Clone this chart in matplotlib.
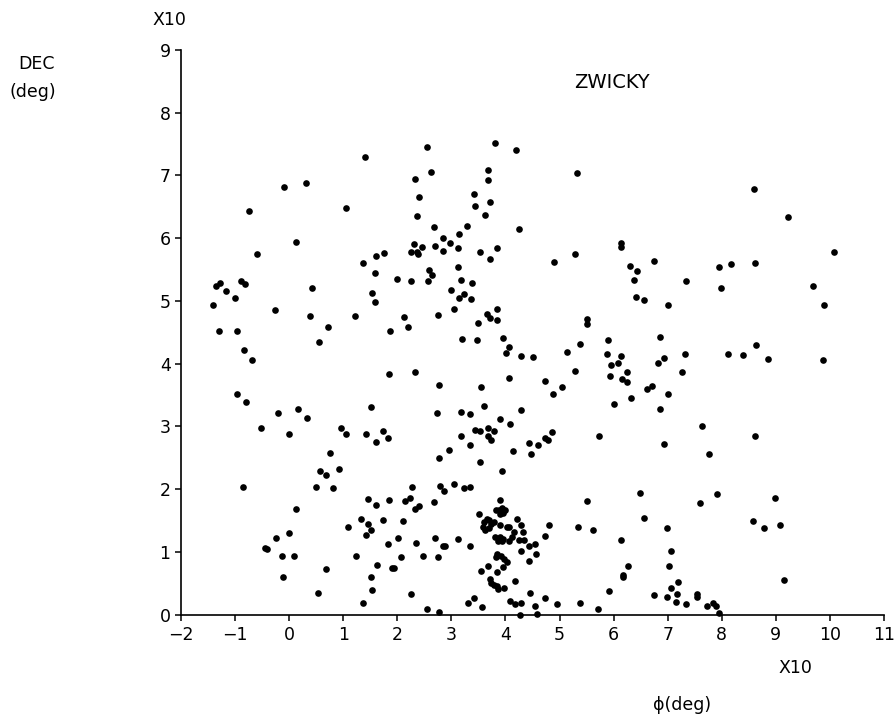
import matplotlib
matplotlib.use("Agg")
import matplotlib.pyplot as plt

# Galaxy positions (units of 10 degrees)
phi = [
    1.40, -0.10, 0.31, -0.75, 1.06, 0.13, 2.33, 2.40, 2.37, 2.30,
    2.54, 2.63, 2.67, 2.84, 2.97, 3.15, 3.28, 3.41, 3.44, 3.63,
    3.72, 3.67, 3.68, 3.80, 4.19, 4.25, 5.33, 6.14, 6.14, 2.46,
    2.70, 3.13, 3.84, 8.59, 9.23,
    -0.59, -1.36, -1.27, -1.16, -0.89, -0.81, -1.01, -1.41, -0.26, 0.43,
    0.39, 0.72, 0.56, -1.30, -0.97, -0.84, -0.69, 1.36, 1.60, 1.75,
    1.59, 1.53, 1.58, 1.22, 1.86, 2.00, 2.26, 2.12, 2.20, 2.25,
    2.37, 2.39, 1.85, 2.33, -0.97, -0.79, -0.20, 0.17, 0.33, -0.52,
    0.00, 0.95, 1.05, 1.43, 1.52, 1.74, 1.82,
    2.84, 3.53, 3.72, 3.12, 2.59, 2.65, 2.57, 3.18, 3.38, 3.00,
    3.23, 3.15, 3.36, 3.04, 2.76, 3.65, 3.72, 3.85, 3.84, 3.50,
    3.20, 3.48, 3.95, 4.06, 4.01, 4.29, 4.51, 4.90, 5.28, 5.50,
    5.50, 6.31, 6.44, 6.38, 6.42, 6.57, 5.37, 5.14, 5.28, 5.90,
    5.87, 6.13, 5.96, 6.08, 6.24, 5.94, 6.16, 6.24, 6.33, 6.00,
    5.73, 2.78, 3.55, 4.06, 4.73, 4.88, 5.04, 3.61, 2.73, 3.18,
    3.34, 4.28, 3.90, 4.08, 3.18, 3.44, 3.53, 3.67, 3.79, 3.68,
    4.86, 4.73,
    10.08, 6.75, 7.94, 8.17, 8.61, 7.34, 7.98, 9.69, 9.89, 7.01,
    6.86, 8.64, 8.12, 8.40, 8.85, 9.88, 6.94, 6.82, 7.32, 7.27,
    6.71, 6.62, 7.01, 6.85, 7.64, 8.61,
    1.60, 0.75, 0.57, 0.68, 0.92, 0.49, 0.81, -0.85, 0.13, -0.01,
    -0.25, -0.45, -0.41, -0.14, 0.09, -0.12, 0.68, 0.54, 1.09, 1.32,
    1.45, 1.61, 1.84, 1.46, 1.51, 1.43, 1.74, 1.24, 1.82, 1.62,
    1.51, 1.53, 1.37, 2.02, 2.07, 1.90, 1.93, 2.11, 2.34, 2.25,
    2.15, 2.23, 2.28, 2.32, 2.41,
    3.73, 3.35, 2.96, 2.78, 3.52, 4.14, 4.43, 4.60, 4.47, 4.78,
    3.93, 2.79, 2.86, 3.04, 3.23, 3.34, 2.67, 2.69, 3.12, 2.84,
    2.89, 2.48, 2.75, 3.35, 2.54, 2.78, 3.30, 3.42, 3.56, 3.51,
    3.89,
    3.83, 3.88, 3.94, 4.00, 3.90, 3.96, 3.66, 3.61, 3.58, 3.62,
    3.70, 3.74, 3.78, 3.70, 3.90, 4.02, 4.07, 4.22, 4.28, 4.33,
    4.16, 4.13, 3.80, 3.90, 3.95, 3.86, 3.93, 4.06, 4.25, 4.34,
    4.43, 4.55, 4.28, 3.85, 3.82, 3.91, 3.98, 4.03, 3.95, 4.56,
    4.43, 3.68, 3.55, 3.84, 3.72, 3.74, 3.79, 3.85, 3.87, 3.98,
    4.17, 4.73, 4.81, 4.08, 4.17, 4.28, 4.46, 4.55, 4.73, 4.95,
    4.27, 4.59, 5.37, 5.72, 5.92, 5.34, 5.61, 5.50, 6.14, 6.27,
    6.17, 6.18, 6.49, 6.56,
    6.94, 7.77, 7.91, 7.59, 8.98, 8.57, 8.79, 9.07, 6.99, 7.06,
    7.03, 9.15, 7.19, 6.74, 7.06, 6.99, 7.17, 7.15, 7.33, 7.54,
    7.55, 7.73, 7.84, 7.89, 7.95,
]

dec = [
    7.29, 6.81, 6.88, 6.44, 6.48, 5.94, 6.94, 6.66, 6.35, 5.91,
    7.45, 7.05, 6.18, 6.01, 5.93, 6.06, 6.19, 6.70, 6.51, 6.37,
    6.58, 6.93, 7.08, 7.52, 7.41, 6.15, 7.04, 5.93, 5.86, 5.86,
    5.88, 5.85, 5.85, 6.78, 6.33,
    5.75, 5.23, 5.28, 5.16, 5.31, 5.27, 5.05, 4.94, 4.86, 5.20,
    4.76, 4.58, 4.34, 4.52, 4.52, 4.22, 4.05, 5.61, 5.71, 5.77,
    5.44, 5.12, 4.98, 4.76, 4.52, 5.35, 5.32, 4.75, 4.58, 5.78,
    5.78, 5.74, 3.84, 3.87, 3.51, 3.39, 3.22, 3.27, 3.13, 2.98,
    2.88, 2.98, 2.87, 2.88, 3.31, 2.93, 2.82,
    5.79, 5.78, 5.66, 5.54, 5.49, 5.41, 5.31, 5.33, 5.28, 5.18,
    5.11, 5.04, 5.03, 4.87, 4.77, 4.79, 4.72, 4.87, 4.69, 4.64,
    4.40, 4.37, 4.41, 4.27, 4.17, 4.12, 4.10, 5.62, 5.74, 4.71,
    4.63, 5.55, 5.47, 5.33, 5.06, 5.01, 4.31, 4.18, 3.88, 4.37,
    4.15, 4.12, 3.97, 4.01, 3.87, 3.80, 3.75, 3.70, 3.45, 3.36,
    2.84, 3.66, 3.63, 3.77, 3.72, 3.51, 3.62, 3.33, 3.21, 3.23,
    3.19, 3.26, 3.12, 3.03, 2.85, 2.94, 2.92, 2.97, 2.93, 2.84,
    2.91, 2.81,
    5.78, 5.64, 5.54, 5.59, 5.61, 5.31, 5.21, 5.23, 4.93, 4.93,
    4.43, 4.30, 4.16, 4.13, 4.07, 4.05, 4.09, 4.01, 4.15, 3.86,
    3.64, 3.60, 3.52, 3.28, 3.01, 2.84,
    2.75, 2.58, 2.29, 2.22, 2.32, 2.03, 2.01, 2.04, 1.68, 1.30,
    1.22, 1.06, 1.04, 0.93, 0.93, 0.59, 0.72, 0.34, 1.40, 1.52,
    1.84, 1.75, 1.83, 1.44, 1.35, 1.27, 1.50, 0.93, 1.12, 0.79,
    0.60, 0.39, 0.19, 1.22, 0.92, 0.74, 0.74, 1.49, 1.14, 0.33,
    1.81, 1.86, 2.03, 1.68, 1.73,
    2.78, 2.70, 2.62, 2.49, 2.43, 2.60, 2.73, 2.71, 2.56, 2.78,
    2.29, 2.05, 1.97, 2.08, 2.01, 2.03, 1.79, 1.22, 1.21, 1.09,
    1.09, 0.94, 0.91, 1.10, 0.09, 0.04, 0.19, 0.27, 0.12, 1.60,
    1.83,
    1.66, 1.66, 1.69, 1.66, 1.60, 1.62, 1.53, 1.48, 1.40, 1.35,
    1.51, 1.44, 1.47, 1.38, 1.43, 1.39, 1.39, 1.53, 1.43, 1.32,
    1.31, 1.24, 1.24, 1.24, 1.21, 1.17, 1.17, 1.17, 1.19, 1.19,
    1.09, 1.13, 1.02, 0.96, 0.91, 0.93, 0.89, 0.84, 0.76, 0.97,
    0.85, 0.77, 0.70, 0.68, 0.57, 0.51, 0.47, 0.45, 0.40, 0.43,
    0.53, 1.25, 1.42, 0.22, 0.16, 0.19, 0.34, 0.13, 0.26, 0.17,
    0.00, 0.01, 0.19, 0.08, 0.37, 1.40, 1.35, 1.81, 1.18, 0.78,
    0.63, 0.60, 1.94, 1.54,
    2.72, 2.56, 1.92, 1.77, 1.85, 1.49, 1.38, 1.42, 1.38, 1.02,
    0.77, 0.55, 0.52, 0.31, 0.42, 0.28, 0.32, 0.20, 0.17, 0.32,
    0.28, 0.13, 0.19, 0.13, 0.02,
]

xticks = list(range(-2, 12))
xticklabels = ["\u2212" + str(-t) if t < 0 else str(t) for t in xticks]
yticks = list(range(0, 10))
yticklabels = [str(t) for t in yticks]

plt.rcParams['font.family'] = ['DejaVu Sans']
fig = plt.figure(figsize=(8.94, 7.21), dpi=100)
W, H = 894, 721
L, R, B, T = 181, 884, 614.5, 50
ax = fig.add_axes([L / W, 1 - B / H, (R - L) / W, (B - T) / H])

ax.plot(phi, dec, 'o', color='black', ms=4.8, mew=0, clip_on=False)

ax.set_xlim(-2, 11)
ax.set_ylim(0, 9)
ax.spines['top'].set_visible(False)
ax.spines['right'].set_visible(False)
for s in ('left', 'bottom'):
    ax.spines[s].set_linewidth(1.2)
ax.set_xticks(xticks)
ax.set_xticklabels(xticklabels)
ax.set_yticks(yticks)
ax.set_yticklabels(yticklabels)
ax.tick_params(axis='both', direction='out', length=4.5, width=1.1,
               labelsize=12.5, colors='black')
ax.tick_params(axis='x', pad=4)
ax.tick_params(axis='y', pad=3)

fs = 12.5
fig.text(169 / W, 1 - 20 / H, "X10", ha='center', va='center', fontsize=fs)
fig.text(37 / W, 1 - 64 / H, "DEC", ha='center', va='center', fontsize=fs)
fig.text(33 / W, 1 - 92 / H, "(deg)", ha='center', va='center', fontsize=fs)
fig.text(612 / W, 1 - 83 / H, "ZWICKY", ha='center', va='center', fontsize=14)
fig.text(795 / W, 1 - 668 / H, "X10", ha='center', va='center', fontsize=fs)
fig.text(682 / W, 1 - 705 / H, "\u03d5(deg)", ha='center', va='center', fontsize=fs)

fig.savefig("out.png", dpi=100, facecolor='white')
